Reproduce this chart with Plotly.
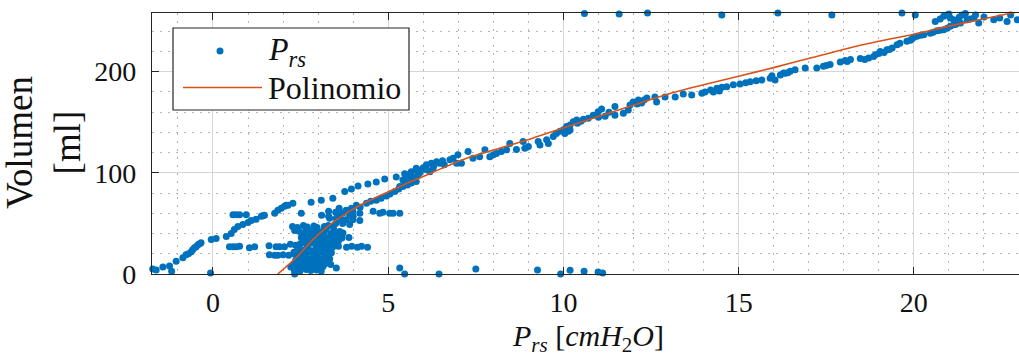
import plotly.graph_objects as go

# Measured respiratory-system pressure (cmH2O) vs. volume (ml), grouped by region of the loop
lower_branch = [
    (-1.72, 5), (-1.62, 4), (-1.43, 7), (-1.24, 8), (-1.18, 2.6), (-1.05, 12.5),
    (-0.86, 16), (-0.77, 19), (-0.70, 20), (-0.62, 22), (-0.58, 24), (-0.53, 26),
    (-0.48, 27), (-0.43, 29), (-0.38, 30), (-0.34, 31), (-0.05, 34), (0.09, 35),
    (-0.07, 1), (0.38, 37), (0.52, 40), (0.61, 44), (0.71, 47), (0.85, 49),
    (1.00, 51), (1.09, 53), (1.23, 54), (1.38, 57), (1.47, 58), (1.76, 60),
    (1.85, 63), (1.95, 65), (2.04, 67), (2.14, 68),
]
side_rows = [
    (0.57, 58.5), (0.66, 58.5), (0.76, 58.5), (0.95, 58.5), (1.42, 57.5),
    (0.47, 27), (0.57, 27), (0.66, 27), (0.76, 27.5), (1.04, 26), (1.19, 27),
    (1.60, 28), (1.80, 27), (1.90, 27), (2.04, 27),
    (1.61, 19), (1.76, 18.5), (1.85, 18.5), (2.00, 19),
]
dense_cluster = [
    (2.27, 47), (2.41, 46), (2.58, 48), (2.69, 46.5), (2.88, 47.5), (2.97, 46), (3.18, 47), (3.29, 48), (3.43, 46.5),
    (2.33, 43), (2.47, 42), (2.66, 44), (2.78, 42.5), (2.96, 43.5), (3.12, 42), (3.23, 44), (3.46, 43), (3.62, 42),
    (2.61, 39), (2.77, 40.5), (2.89, 39.5), (3.07, 40), (3.18, 38.5), (3.37, 40), (3.53, 39), (3.71, 40.5),
    (2.52, 36), (2.68, 35), (2.86, 36.5), (3.02, 35.5), (3.14, 36), (3.32, 35), (3.48, 36.5), (3.68, 35.5), (3.88, 36),
    (2.62, 33), (2.78, 32), (2.97, 33.5), (3.08, 32.5), (3.27, 33), (3.41, 31.5), (3.58, 32.5),
    (2.21, 29.5), (2.36, 28.5), (2.49, 30), (2.67, 29), (2.79, 30.5), (2.94, 28.5), (3.12, 29.5), (3.28, 30), (3.49, 28.5),
    (3.02, 26.5), (3.18, 27.5), (3.41, 26.5), (3.58, 27.5), (3.81, 26.5), (3.96, 27.5), (4.12, 26.5), (4.24, 27.5), (4.41, 26.5),
    (2.42, 24.5), (2.56, 23.5), (2.71, 25), (2.83, 23), (3.01, 24), (3.16, 25), (3.29, 23.5),
    (2.31, 21.5), (2.48, 20.5), (2.66, 21), (2.78, 22), (2.96, 20.5), (3.11, 21.5), (3.24, 20), (3.38, 21),
    (2.16, 18.5), (2.34, 19.5), (2.52, 18),
    (2.41, 16.5), (2.57, 15.5), (2.68, 16), (2.86, 17), (3.02, 15.5), (3.18, 16.5), (3.33, 15),
    (2.36, 13.5), (2.49, 12.5), (2.64, 13), (2.81, 14), (2.93, 12), (3.11, 13.5), (3.28, 12.5),
    (2.31, 10), (2.47, 9), (2.59, 10.5), (2.76, 9.5), (2.88, 11), (3.06, 9), (3.19, 10), (3.36, 9.5),
    (2.22, 7), (2.38, 6), (2.56, 7.5), (2.71, 6.5), (2.84, 7), (3.01, 6), (3.14, 7.5),
    (2.32, 4), (2.48, 3), (2.66, 4.5), (2.79, 3.5), (2.96, 4), (3.09, 3),
    (3.30, 62), (3.50, 61), (3.70, 60), (3.90, 58), (3.10, 58), (3.30, 57), (3.60, 58),
    (4.00, 57), (3.50, 50), (3.70, 50), (3.90, 49),
    (3.33, 55), (3.52, 55), (3.66, 53.6), (3.80, 53.6), (3.99, 53.6), (4.19, 53),
]
upper_branch = [
    (2.09, 68), (2.28, 70), (2.52, 60), (2.80, 71), (3.09, 73), (3.42, 75), (3.76, 81.5),
    (3.95, 84), (4.14, 87), (4.42, 89), (4.66, 91), (4.90, 94), (5.23, 96), (5.47, 99),
    (5.66, 101), (5.80, 103),
    (4.09, 68), (4.38, 70), (4.66, 73), (4.95, 77), (5.19, 81.5), (5.42, 86.5), (5.66, 90),
    (5.80, 91.5), (3.60, 65), (3.80, 63), (4.20, 66), (4.50, 72), (4.80, 75), (5.05, 79),
    (5.30, 84),
    (4.57, 62), (4.76, 60), (4.85, 61), (5.04, 60), (5.14, 60), (5.33, 60), (3.95, 65),
    (3.99, 62), (4.19, 60),
]
mid_band = [
    (5.33, 86.5), (5.42, 93), (5.52, 98), (5.61, 95), (5.80, 104.6), (5.90, 100), (5.95, 103),
    (6.09, 108), (6.19, 101), (6.23, 109.6), (6.28, 104.6), (6.38, 111), (6.47, 109.6),
    (5.50, 92), (5.70, 96), (5.85, 98), (6.00, 105), (6.10, 103), (6.30, 107), (6.55, 112),
    (6.60, 108), (5.55, 88),
    (6.76, 113), (6.85, 114.5), (6.99, 118), (6.95, 109.6), (7.09, 109.6), (7.28, 121),
    (7.42, 114.5), (7.61, 116), (7.76, 122.7), (7.90, 116), (8.00, 118), (8.09, 119),
    (8.23, 121), (8.38, 122.7), (8.47, 129), (8.66, 123), (8.85, 131), (8.90, 124.4),
    (9.00, 126), (9.28, 131), (9.33, 127.6), (9.52, 132.6), (9.57, 129), (9.71, 136),
    (9.80, 139), (9.90, 141), (10.00, 142.5), (10.04, 139), (10.14, 141), (10.09, 145.7),
    (10.19, 147.4), (10.28, 150.6), (10.38, 152.3),
]
high_band = [
    (10.19, 142.4), (10.57, 153), (10.71, 154), (10.85, 157), (10.99, 160.5), (11.09, 163),
    (11.19, 156), (11.47, 165.5), (11.47, 157), (11.71, 159), (11.85, 162), (11.90, 167),
    (11.99, 170), (12.14, 172), (12.23, 169), (12.38, 174), (12.61, 175), (12.66, 170),
    (12.90, 175), (13.19, 175), (13.42, 178), (13.66, 177), (13.95, 178.7), (14.04, 180),
    (14.28, 180), (14.38, 183.6), (14.52, 184.6), (14.66, 185), (14.85, 187), (15.04, 187.8),
    (15.33, 190), (15.66, 191.8), (15.90, 193.5), (16.04, 191.8), (16.19, 196.7), (16.33, 198.4),
    (10.40, 149), (10.50, 151), (11.00, 155), (11.30, 160), (12.30, 172), (12.10, 168),
    (14.20, 182), (14.45, 181), (15.20, 189), (15.50, 191), (15.95, 196),
    (16.28, 198.7), (16.47, 200.4), (16.61, 202), (16.90, 203.6), (17.23, 203.6), (17.42, 205.3),
    (17.61, 207), (17.90, 209.6), (18.04, 211), (18.19, 212), (18.47, 213), (18.71, 213.5),
    (18.90, 216.8), (19.04, 220), (19.23, 221.7), (19.38, 223.4), (19.52, 226.7), (19.80, 230),
    (19.95, 232.6), (20.09, 235), (20.28, 236.5), (20.47, 238), (20.66, 240.5), (20.85, 241.5),
    (21.04, 244.8), (21.14, 246.4), (21.33, 248), (21.52, 251.3), (21.71, 253),
    (16.40, 199), (17.50, 206), (18.10, 210), (18.60, 212), (18.85, 215), (19.00, 218),
    (19.15, 219), (19.30, 222), (19.60, 228), (19.90, 231), (20.00, 234), (20.20, 236),
    (20.55, 239), (20.75, 241), (20.95, 243), (21.20, 247),
]
top_cluster = [
    (20.61, 249.7), (20.85, 254.7), (20.95, 256), (21.04, 253), (21.14, 251.3), (21.23, 249.7),
    (21.38, 256), (21.47, 257.6), (21.76, 256), (21.85, 248), (22.28, 251.3), (22.66, 249.7),
    (22.95, 251.3), (22.76, 256), (20.75, 252), (21.00, 257), (21.30, 254), (21.60, 252),
    (22.00, 254), (22.45, 253),
    (17.66, 256), (19.66, 258), (20.04, 256), (10.60, 257.6), (11.59, 257), (12.40, 258),
    (14.52, 256), (16.12, 258),
]
baseline_points = [
    (5.33, 6), (5.47, 0), (6.45, 0), (7.50, 5), (9.26, 4), (9.92, 0), (10.19, 3.6),
    (10.59, 2.6), (10.99, 2), (11.12, 1), (3.52, 6), (2.33, 0),
]

# Fitted polynomial, sampled along its length
poly_p = [1.85, 2.4, 2.85, 3.35, 3.8, 4.3, 4.8, 5.3, 5.9, 6.3, 7.2, 8.2, 9.1, 10.1, 11.1,
          12.1, 13.0, 14.0, 15.0, 16.0, 17.1, 18.1, 19.0, 20.0, 21.0, 21.9, 22.8, 23.1]
poly_v = [0, 17, 34, 49, 60, 70, 78, 86, 95, 101, 114, 124.5, 134, 145.5, 157,
          168, 178, 187, 195.5, 204, 214, 223, 230, 237, 245, 251.5, 258, 260]

x_ticks = [0, 5, 10, 15, 20]
y_ticks = [0, 100, 200]

groups = [lower_branch, side_rows, dense_cluster, upper_branch, mid_band,
          high_band, top_cluster, baseline_points]
p_rs = [p for g in groups for p, _ in g]
vol = [v for g in groups for _, v in g]

BLUE = "#0072BD"
ORANGE = "#D95319"
FONT = "Liberation Serif, DejaVu Serif, serif"

W, H = 1019, 358
L, R, T, B = 152, 1019, 13, 274


def fx(px):
    return (px - L) / (R - L)


def fy(py):
    return (B - py) / (B - T)


fig = go.Figure()
fig.add_trace(go.Scatter(
    x=p_rs, y=vol, mode="markers", name="P_rs",
    marker=dict(color=BLUE, size=7, line=dict(width=0)),
    cliponaxis=False, showlegend=False,
))
fig.add_trace(go.Scatter(
    x=poly_p, y=poly_v, mode="lines", name="Polinomio",
    line=dict(color=ORANGE, width=1.6, shape="spline", smoothing=0.8),
    showlegend=False,
))

axis_common = dict(
    showline=True, linecolor="#262626", linewidth=1.2,
    ticks="inside", ticklen=7, tickwidth=1.2, tickcolor="#262626",
    showgrid=True, gridcolor="#d6d6d6", gridwidth=1,
    zeroline=False,
    tickfont=dict(family=FONT, size=28, color="#111111"),
)

fig.update_xaxes(
    range=[-1.74, 23.0], tickvals=x_ticks, mirror="ticks",
    minor=dict(dtick=1, tick0=0, showgrid=True, gridcolor="#b4b4b4",
               griddash="2px,6px", gridwidth=1, ticks=""),
    ticklabelstandoff=3,
    **axis_common,
)
fig.update_yaxes(
    range=[0, 258], tickvals=y_ticks, mirror=False,
    minor=dict(dtick=20, tick0=0, showgrid=True, gridcolor="#b4b4b4",
               griddash="2px,6px", gridwidth=1, ticks=""),
    ticklabelstandoff=9,
    **axis_common,
)

# Legend box drawn by hand so the line sample can be as long as the label column
shapes = [
    dict(type="rect", xref="paper", yref="paper",
         x0=fx(173), x1=fx(409), y0=fy(110), y1=fy(28),
         line=dict(color="#262626", width=1.2), fillcolor="white", layer="above"),
    dict(type="circle", xref="paper", yref="paper",
         x0=fx(216.5), x1=fx(223.5), y0=fy(54.5), y1=fy(47.5),
         line=dict(width=0), fillcolor=BLUE, layer="above"),
    dict(type="line", xref="paper", yref="paper",
         x0=fx(183), x1=fx(262), y0=fy(87.5), y1=fy(87.5),
         line=dict(color=ORANGE, width=1.6), layer="above"),
]

annotations = [
    dict(text="<i>P</i><sub><i>rs</i></sub>", xref="paper", yref="paper",
         x=fx(266), y=fy(51), xanchor="left", yanchor="middle", showarrow=False,
         font=dict(family=FONT, size=32, color="#111111")),
    dict(text="Polinomio", xref="paper", yref="paper",
         x=fx(266), y=fy(88), xanchor="left", yanchor="middle", showarrow=False,
         font=dict(family=FONT, size=32, color="#111111")),
    dict(text="Volumen<br>[ml]", xref="paper", yref="paper",
         x=fx(43), y=fy(143), xanchor="center", yanchor="middle", showarrow=False,
         textangle=-90, font=dict(family=FONT, size=37, color="#111111")),
    dict(text="<i>P</i><sub><i>rs</i></sub> [<i>cmH</i><sub>2</sub><i>O</i>]",
         xref="paper", yref="paper",
         x=fx(588), y=fy(338), xanchor="center", yanchor="middle", showarrow=False,
         font=dict(family=FONT, size=30, color="#111111")),
]

fig.update_layout(
    width=W, height=H,
    margin=dict(l=L, r=W - R, t=T, b=H - B, pad=0),
    paper_bgcolor="white", plot_bgcolor="white",
    shapes=shapes, annotations=annotations,
    showlegend=False,
)

fig.write_html("out.html")
